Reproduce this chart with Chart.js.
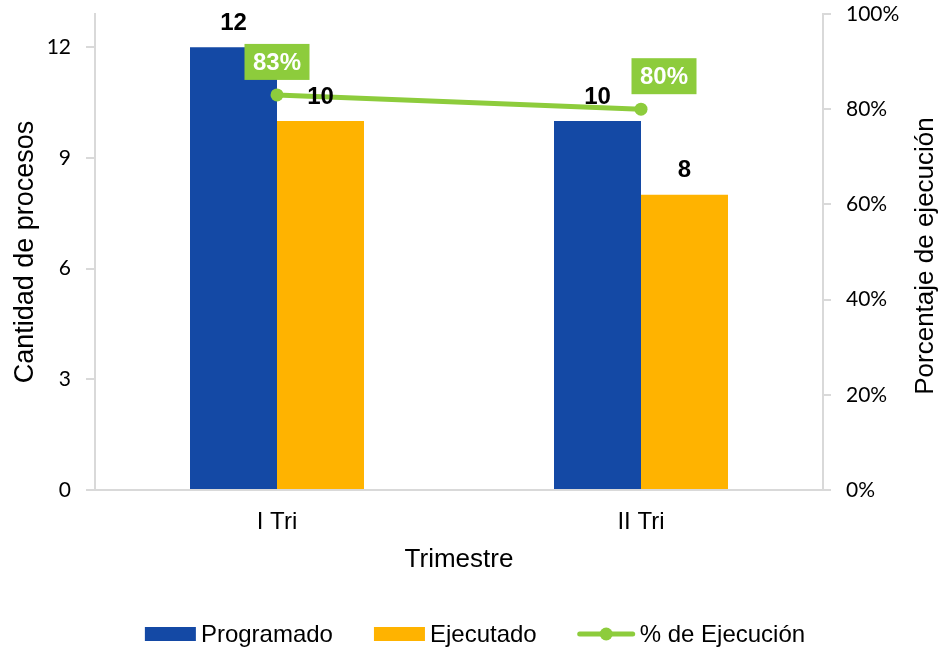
<!DOCTYPE html>
<html>
<head>
<meta charset="utf-8">
<script src="https://cdn.jsdelivr.net/npm/chart.js@4.4.0/dist/chart.umd.min.js"></script>
<style>
  html, body { margin: 0; padding: 0; background: #fff; }
  #wrap { width: 939px; height: 648px; }
</style>
</head>
<body>
<div id="wrap"><canvas id="grafico"></canvas></div>
<script>
// datos
const trimestres = ['I Tri', 'II Tri'];
const programado = [12, 10];
const ejecutado = [10, 8];
const pctEjecucion = [83, 80];
const ticksCantidad = [0, 3, 6, 9, 12];

const azul = '#1449a5';
const naranja = '#ffb300';
const verde = '#8dcc3c';
const gris = '#d9d9d9';
const arial = '"Liberation Sans", Arial, sans-serif';

// etiquetas de valores sobre barras y cajas verdes del porcentaje
const etiquetas = {
  id: 'etiquetas',
  afterDatasetsDraw(chart) {
    const ctx = chart.ctx;
    ctx.save();
    ctx.textAlign = 'center';
    ctx.textBaseline = 'middle';
    ctx.font = 'bold 24px ' + arial;
    ctx.fillStyle = '#000';
    [0, 1].forEach(di => {
      chart.getDatasetMeta(di).data.forEach((bar, i) => {
        ctx.fillText(chart.data.datasets[di].data[i], bar.x, bar.y - 24);
      });
    });
    const corrimiento = [0, 23];
    chart.getDatasetMeta(2).data.forEach((pt, i) => {
      const cx = pt.x + corrimiento[i];
      const cy = pt.y - 33;
      ctx.fillStyle = verde;
      ctx.fillRect(cx - 32.5, cy - 18, 65, 36);
      ctx.fillStyle = '#fff';
      ctx.fillText(pctEjecucion[i] + '%', cx, cy + 1);
    });
    ctx.restore();
  },
  afterDraw(chart) {
    const ctx = chart.ctx;
    ctx.save();
    // titulo eje derecho (lee de abajo hacia arriba)
    const area = chart.chartArea;
    ctx.font = '26px ' + arial;
    ctx.fillStyle = '#000';
    ctx.textAlign = 'center';
    ctx.textBaseline = 'middle';
    ctx.translate(926, (area.top + area.bottom) / 2 + 4);
    ctx.rotate(-Math.PI / 2);
    ctx.fillText('Porcentaje de ejecución', 0, 0);
    ctx.restore();

    // leyenda
    ctx.save();
    ctx.font = '24px ' + arial;
    ctx.textBaseline = 'middle';
    ctx.textAlign = 'left';
    const y = 634;
    const items = chart.data.datasets.map((ds, i) => ({
      label: ds.label,
      color: i === 2 ? ds.borderColor : ds.backgroundColor,
      linea: i === 2,
      ancho: i === 2 ? 57 : 51
    }));
    let total = 0;
    items.forEach((it, i) => {
      it.tw = ctx.measureText(it.label).width;
      total += it.ancho + 5 + it.tw + (i < items.length - 1 ? 41 : 0);
    });
    let x = 475 - total / 2;
    items.forEach(it => {
      if (it.linea) {
        ctx.strokeStyle = it.color;
        ctx.lineWidth = 5;
        ctx.lineCap = 'round';
        ctx.beginPath();
        ctx.moveTo(x + 2, y);
        ctx.lineTo(x + it.ancho - 2, y);
        ctx.stroke();
        ctx.fillStyle = it.color;
        ctx.beginPath();
        ctx.arc(x + it.ancho / 2, y, 6.5, 0, Math.PI * 2);
        ctx.fill();
      } else {
        ctx.fillStyle = it.color;
        ctx.fillRect(x, y - 7, it.ancho, 14);
      }
      x += it.ancho + 5;
      ctx.fillStyle = '#000';
      ctx.fillText(it.label, x, y + 1);
      x += it.tw + 41;
    });
    ctx.restore();
  }
};

// sin relleno extra arriba/abajo por las etiquetas de los ejes
function sinRelleno(scale) {
  scale.paddingTop = 0;
  scale.paddingBottom = 0;
}

new Chart(document.getElementById('grafico'), {
  type: 'bar',
  data: {
    labels: trimestres,
    datasets: [
      {
        label: 'Programado',
        data: programado,
        backgroundColor: azul,
        yAxisID: 'y',
        order: 1,
        categoryPercentage: 0.478,
        barPercentage: 1
      },
      {
        label: 'Ejecutado',
        data: ejecutado,
        backgroundColor: naranja,
        yAxisID: 'y',
        order: 1,
        categoryPercentage: 0.478,
        barPercentage: 1
      },
      {
        type: 'line',
        label: '% de Ejecución',
        data: pctEjecucion,
        borderColor: verde,
        backgroundColor: verde,
        borderWidth: 5,
        pointRadius: 6.5,
        pointBackgroundColor: verde,
        pointBorderWidth: 0,
        yAxisID: 'y1',
        order: 0
      }
    ]
  },
  options: {
    responsive: true,
    maintainAspectRatio: false,
    animation: false,
    layout: { padding: { top: 14, bottom: 0, left: 0, right: 0 } },
    plugins: {
      legend: { display: false },
      tooltip: { enabled: false }
    },
    scales: {
      x: {
        grid: { display: false },
        border: { color: gris, width: 2 },
        ticks: { color: '#000', font: { family: arial, size: 24 }, padding: 10 },
        title: {
          display: true,
          text: 'Trimestre',
          color: '#000',
          font: { family: arial, size: 26 },
          padding: { bottom: 73 }
        },
        afterFit(scale) { scale.height = 158; }
      },
      y: {
        position: 'left',
        min: 0,
        max: 12.9,
        grid: { drawOnChartArea: false, color: gris, lineWidth: 2, tickLength: 9 },
        border: { color: gris, width: 2 },
        ticks: {
          stepSize: 3,
          color: '#000',
          font: { family: 'Lato, "Liberation Sans", sans-serif', size: 21 },
          padding: 15
        },
        afterBuildTicks(scale) {
          scale.ticks = ticksCantidad.map(v => ({ value: v }));
        },
        title: {
          display: true,
          text: 'Cantidad de procesos',
          color: '#000',
          font: { family: arial, size: 27 },
          padding: { top: 9 }
        },
        afterFit(scale) { scale.width = 95; sinRelleno(scale); }
      },
      y1: {
        position: 'right',
        min: 0,
        max: 100,
        grid: { drawOnChartArea: false, color: gris, lineWidth: 2, tickLength: 8 },
        border: { color: gris, width: 2 },
        ticks: {
          stepSize: 20,
          color: '#000',
          font: { family: 'Lato, "Liberation Sans", sans-serif', size: 21 },
          padding: 15,
          callback: v => v + '%'
        },
        afterFit(scale) { scale.width = 116; sinRelleno(scale); }
      }
    }
  },
  plugins: [etiquetas]
});
</script>
</body>
</html>
